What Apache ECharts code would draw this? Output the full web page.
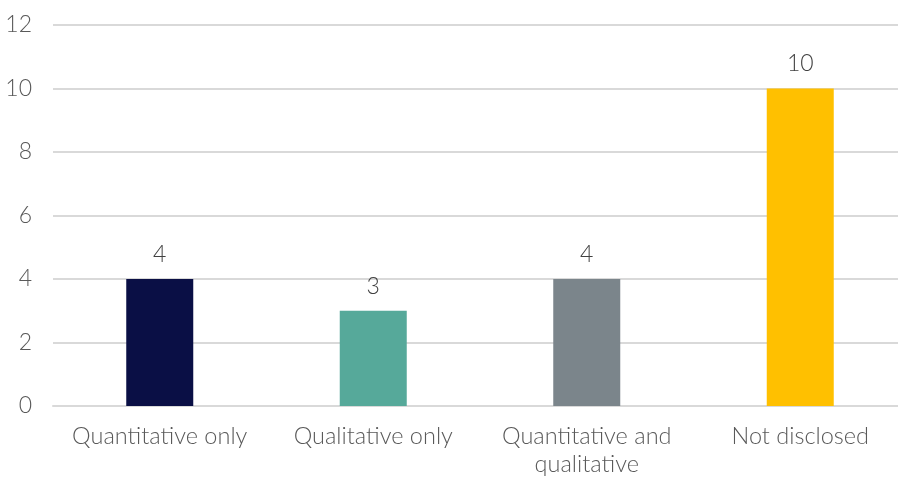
<!DOCTYPE html>
<html>
<head>
<meta charset="utf-8">
<script src="https://cdn.jsdelivr.net/npm/echarts@6/dist/echarts.min.js"></script>
<style>
  html, body { margin: 0; padding: 0; background: #fff; }
  #chart { width: 898px; height: 477px; }
</style>
</head>
<body>
<div id="chart"></div>
<script>
// Disclosure type counts
const categories = ['Quantitative only', 'Qualitative only', 'Quantitative and\nqualitative', 'Not disclosed'];
const counts = [4, 3, 4, 10];
const barColors = ['#0a0f45', '#56a99a', '#7b858b', '#ffc000'];
const yTicks = { min: 0, max: 12, interval: 2 };

const chart = echarts.init(document.getElementById('chart'), null, { renderer: 'canvas' });
const font = 'Lato, "Open Sans", sans-serif';

chart.setOption({
  animation: false,
  grid: {
    left: 53, top: 25, width: 854, height: 381,
    containLabel: false, outerBoundsMode: 'none'
  },
  xAxis: {
    type: 'category',
    data: categories,
    axisLine: { show: true, lineStyle: { color: '#d9d9d9', width: 2 } },
    axisTick: { show: false },
    axisLabel: {
      color: '#595959', fontFamily: font, fontSize: 23.5, fontWeight: 300,
      margin: 16, lineHeight: 28, interval: 0
    }
  },
  yAxis: {
    type: 'value',
    min: yTicks.min, max: yTicks.max, interval: yTicks.interval,
    axisLine: { show: false },
    axisTick: { show: false },
    splitLine: { lineStyle: { color: '#d9d9d9', width: 2 } },
    axisLabel: { color: '#595959', fontFamily: font, fontSize: 23, fontWeight: 300, margin: 21 }
  },
  series: [{
    type: 'bar',
    data: counts.map((v, i) => ({ value: v, itemStyle: { color: barColors[i] } })),
    barWidth: 67,
    label: {
      show: true, position: 'top', distance: 13,
      color: '#404040', fontFamily: font, fontSize: 23, fontWeight: 300
    }
  }]
});
</script>
</body>
</html>
